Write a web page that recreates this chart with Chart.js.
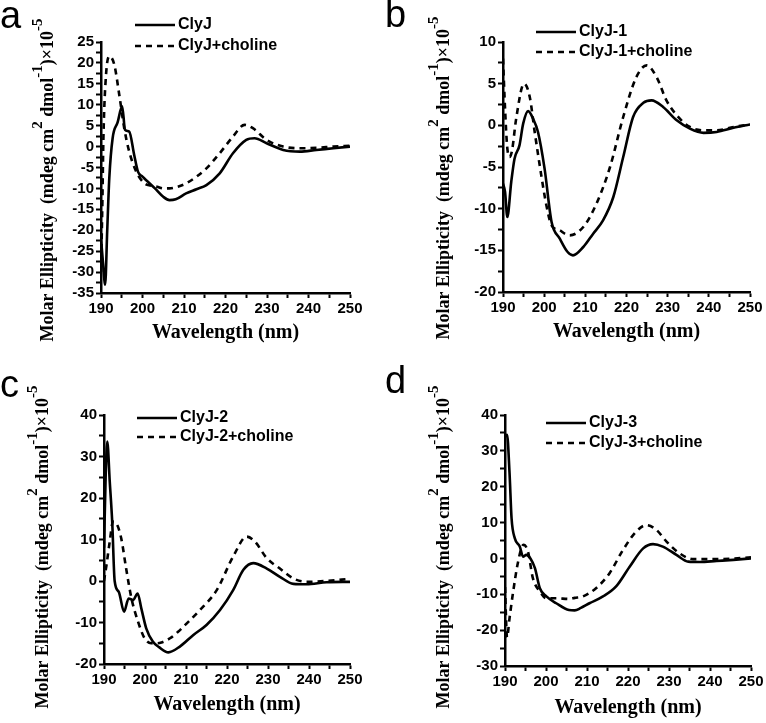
<!DOCTYPE html>
<html>
<head>
<meta charset="utf-8">
<script src="https://cdn.jsdelivr.net/npm/chart.js@4.4.1/dist/chart.umd.min.js"></script>
<style>
  body { margin: 0; background: #fff; }
  #fig { position: relative; width: 766px; height: 723px; }
  canvas { position: absolute; }
  .lab { position: absolute; font: 38px Arial, "Liberation Sans", sans-serif; line-height: 1; color: #000; }
</style>
</head>
<body>
<div id="fig">
  <canvas id="chartA" width="383" height="360" style="left:0;top:0"></canvas>
  <canvas id="chartB" width="383" height="360" style="left:383px;top:0"></canvas>
  <canvas id="chartC" width="383" height="363" style="left:0;top:360px"></canvas>
  <canvas id="chartD" width="383" height="363" style="left:383px;top:360px"></canvas>
  <div class="lab" style="left:0;top:-4px">a</div>
  <div class="lab" style="left:385px;top:-5px">b</div>
  <div class="lab" style="left:0;top:365px">c</div>
  <div class="lab" style="left:385px;top:361px">d</div>
</div>
<script>
// panel a : ClyJ
const aWl      = [190,190.5,191,191.5,192,192.8,194,195.1,195.8,196.8,198,198.9,200,201.3,203,205,206.5,208,210.5,213,215.4,218.6,221.8,225,227,229.9,233.9,237.9,241.9,246,250]
const aClyJ    = [-22,-28,-33,-20,-7.5,2,5.8,9.6,4,3.6,-2,-6,-7.2,-8.4,-10,-12,-12.8,-12.6,-11.2,-10.2,-9.2,-6.4,-1.6,1.6,2,0.8,-0.8,-1.2,-0.8,-0.4,0]
const aWlC     = [190,190.3,190.6,191.2,192,193.2,194.4,195.6,196.8,198.5,200.5,202,203.5,205,206.5,208.5,210.5,213,215.4,218.6,221.8,224.6,226.6,229.9,233.9,237.9,242,246,250]
const aClyJCh  = [-30,-15,2.8,17,21.6,19.6,12.4,4.4,-1.2,-6,-8.8,-9.3,-9.6,-10,-10,-9.6,-8.8,-7.2,-5.2,-1.6,2.4,5.2,4.4,1.6,0,-0.4,-0.3,0,0.2]

// panel b : ClyJ-1
const bWl      = [190,190.5,191.05,192,192.8,194,194.9,196.1,197.3,198.5,200.1,201.8,203.8,205.7,207,209.5,211.9,214.3,216.8,219.2,221.6,224.1,226.1,228.9,232.2,235.4,238.7,241.9,246,250]
const bClyJ1   = [-7,-8,-11,-6.8,-4,-2.4,0.2,1.7,0.8,-0.8,-5.2,-11.6,-13.6,-15.2,-15.6,-14.6,-13,-11.4,-8.6,-3.8,1,2.7,3,2.2,0.6,-0.4,-0.9,-0.8,-0.3,0.1]
const bWlC     = [190,190.5,191,191.6,192.2,193.2,195.1,196.5,197.7,199.3,200.5,201.8,203.8,205,206.2,209.5,212.7,216,219.2,222.4,224.9,227.3,229.7,232.2,235.4,238.7,242,246,250]
const bClyJ1Ch = [8,2,-2.5,-3.8,-3,0.8,5,3.4,-0.8,-6,-9.5,-12,-12.6,-13,-13.2,-12.2,-9.4,-5,1,5.8,7.2,5.8,3,1.2,-0.2,-0.6,-0.6,-0.2,0.1]

// panel c : ClyJ-2
const cWl      = [190,190.4,190.8,191.4,192,192.6,193.6,194.9,196,197.1,198.2,199.1,200.3,201.9,203.5,205.7,208.5,211.8,215,218.3,221.5,224,226.4,229.7,232.9,236.2,239.4,244.3,250]
const cClyJ2   = [8,25,33.6,24,14.3,0,-2.6,-7.4,-4.2,-4.6,-3,-6.6,-11.4,-14.6,-16,-17.2,-15.8,-13,-10.6,-7,-2.2,2.7,4.3,3,1,-0.7,-0.8,-0.3,-0.2]
const cWlC     = [190,190.6,191.4,192.2,193,194.2,195.4,196.7,198.3,199.9,201.5,202.8,204,206.1,208,210.2,213.4,217.5,221.5,224.8,226.8,229.7,232.9,236.2,239.4,244,250]
const cClyJ2Ch = [0,3.8,9.5,14.3,13.9,10.3,3,-4.2,-9.8,-13.8,-15,-15,-14.8,-13.8,-12.3,-10.2,-7,-2.2,5.9,10.7,9.5,5.5,3,0.6,-0.2,0,0.5]

// panel d : ClyJ-3
const dWl      = [190,190.5,191.1,191.6,192.4,193.6,194.4,195.2,196.2,197.3,198.5,200.1,202.5,205.6,207,208.5,210.6,213.9,217.1,220.4,223.7,226.1,228.5,231.8,234.7,237.5,241.6,245.7,250]
const dClyJ3   = [34,34.5,24,11.2,5.6,3.3,0.5,1,0,-2.7,-8.3,-10.6,-12.5,-14.4,-14.5,-13.8,-12.5,-10.6,-7.8,-2.3,2.8,4,3.3,1,-0.9,-1,-0.7,-0.4,0]
const dWlC     = [190,190.5,191.1,192,193.2,194.5,195.6,196.8,198.5,200.1,202.5,205.6,207,209,212.2,215.5,218.8,222,224.5,226.9,229.4,232.6,235.9,241.6,246,250]
const dClyJ3Ch = [-8,-22,-16.7,-9.2,-0.9,3.8,1.9,-5.5,-9.2,-11.1,-11.1,-11.3,-11,-10.6,-8.3,-4.1,2.4,7.5,9.3,8,4.7,1.4,-0.2,-0.2,0,0.3]

// y title pieces, [text, superscript?]
const yTitleParts = [['Molar Ellipticity  (mdeg cm', false], ['2', true], [' dmol', false], ['-1', true], [')×10', false], ['-5', true]]
const serif = '"Liberation Serif", "Times New Roman", serif'
const sans = 'Arial, "Liberation Sans", sans-serif'

// draws the in-plot legend and the rotated y title with superscripts
const sampleLegend = {
  id: 'sampleLegend',
  afterDraw(chart, args, opts) {
    const ctx = chart.ctx
    ctx.save()
    chart.data.datasets.forEach((ds, i) => {
      const y = opts.y + i * opts.gap
      ctx.beginPath()
      ctx.setLineDash(ds.borderDash || [])
      ctx.lineWidth = 2.5
      ctx.strokeStyle = '#000'
      ctx.moveTo(opts.x, y)
      ctx.lineTo(opts.x + 40, y)
      ctx.stroke()
      ctx.setLineDash([])
      ctx.font = 'bold 16px ' + sans
      ctx.textBaseline = 'middle'
      ctx.fillStyle = '#000'
      ctx.fillText(ds.label, opts.x + 43, y)
    })
    // y title
    ctx.translate(opts.tx, opts.ty)
    ctx.rotate(-Math.PI / 2)
    ctx.textBaseline = 'alphabetic'
    const fontOf = sup => (sup ? 'bold 15px ' : 'bold 18px ') + serif
    let total = 0
    yTitleParts.forEach(p => { ctx.font = fontOf(p[1]); total += ctx.measureText(p[0]).width })
    let cur = -total / 2
    yTitleParts.forEach(p => {
      ctx.font = fontOf(p[1])
      ctx.fillText(p[0], cur, p[1] ? -11 : 0)
      cur += ctx.measureText(p[0]).width
    })
    ctx.restore()
  }
}

function pts(xs, ys) { return xs.map((x, i) => ({x: x, y: ys[i]})) }

function makeChart(id, s1, s2, yr, box, leg, xPad) {
  const cv = document.getElementById(id)
  const w = cv.width, h = cv.height
  const config = {
    type: 'line',
    data: {
      datasets: [
        { label: s1.name, data: pts(s1.x, s1.y), borderColor: '#000', borderWidth: 2.6, pointRadius: 0, cubicInterpolationMode: 'monotone' },
        { label: s2.name, data: pts(s2.x, s2.y), borderColor: '#000', borderWidth: 2.6, pointRadius: 0, borderDash: [6, 5], cubicInterpolationMode: 'monotone' }
      ]
    },
    options: {
      responsive: false,
      animation: false,
      layout: { padding: { left: 0, top: box.top, right: w - box.right, bottom: 0 } },
      plugins: {
        legend: { display: false },
        tooltip: { enabled: false },
        sampleLegend: leg
      },
      scales: {
        x: {
          type: 'linear', min: 190, max: 250,
          afterFit: s => { s.height = h - box.bottom },
          border: { display: true, width: 2.5, color: '#000' },
          grid: { drawOnChartArea: false, drawTicks: true, tickLength: 5, tickWidth: 2, tickColor: '#000' },
          ticks: {
            stepSize: 5, autoSkip: false, maxRotation: 0, padding: 2, color: '#000',
            font: { family: sans, size: 15, weight: 'bold' },
            callback: v => (v % 10 === 0 ? v : '')
          },
          title: { display: true, text: 'Wavelength (nm)', color: '#000', font: { family: serif, size: 20, weight: 'bold' }, padding: { top: 0, bottom: xPad } }
        },
        y: {
          min: yr.min, max: yr.max,
          afterFit: s => { s.width = box.left },
          border: { display: true, width: 2.5, color: '#000' },
          grid: { drawOnChartArea: false, drawTicks: true, tickLength: 5, tickWidth: 2, tickColor: '#000' },
          ticks: {
            stepSize: yr.step, autoSkip: false, padding: 2, color: '#000',
            font: { family: sans, size: 15, weight: 'bold' },
            callback: v => (v % yr.label === 0 ? v : '')
          }
        }
      }
    },
    plugins: [sampleLegend]
  }
  return new Chart(cv.getContext('2d'), config)
}

makeChart('chartA',
  { name: 'ClyJ', x: aWl, y: aClyJ }, { name: 'ClyJ+choline', x: aWlC, y: aClyJCh },
  { min: -35, max: 25, step: 2.5, label: 5 },
  { left: 101, right: 350, top: 42, bottom: 293 },
  { x: 135, y: 25, gap: 21, tx: 53, ty: 180 }, 15)

makeChart('chartB',
  { name: 'ClyJ-1', x: bWl, y: bClyJ1 }, { name: 'ClyJ-1+choline', x: bWlC, y: bClyJ1Ch },
  { min: -20, max: 10, step: 2.5, label: 5 },
  { left: 120, right: 367, top: 42, bottom: 292 },
  { x: 153, y: 32, gap: 20, tx: 66, ty: 178 }, 16)

makeChart('chartC',
  { name: 'ClyJ-2', x: cWl, y: cClyJ2 }, { name: 'ClyJ-2+choline', x: cWlC, y: cClyJ2Ch },
  { min: -20, max: 40, step: 5, label: 10 },
  { left: 104, right: 350, top: 55, bottom: 304 },
  { x: 137, y: 58, gap: 19, tx: 48, ty: 187 }, 6)

makeChart('chartD',
  { name: 'ClyJ-3', x: dWl, y: dClyJ3 }, { name: 'ClyJ-3+choline', x: dWlC, y: dClyJ3Ch },
  { min: -30, max: 40, step: 5, label: 10 },
  { left: 122, right: 368, top: 55, bottom: 306 },
  { x: 163, y: 63, gap: 20, tx: 66, ty: 187 }, 3)
</script>
</body>
</html>
